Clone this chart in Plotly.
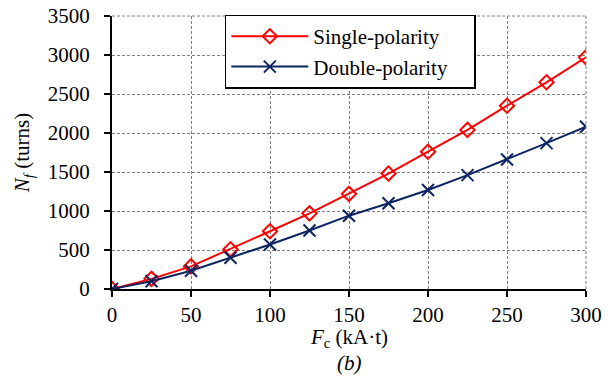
import plotly.graph_objects as go

fc = [0, 25, 50, 75, 100, 125, 150, 175, 200, 225, 250, 275, 300]
single = [0, 130, 290, 510, 740, 970, 1220, 1480, 1760, 2040, 2350, 2650, 2970]
double = [0, 100, 235, 400, 570, 750, 940, 1100, 1270, 1460, 1660, 1870, 2080]
series_names = ["Single-polarity", "Double-polarity"]

font = "Liberation Serif"
fs = 21
red = "#ff0000"
navy = "#0c2461"
grid = "#7f7f7f"
pad = "\u00a0" * 4  # right padding inside the legend box

fig = go.Figure()
fig.add_trace(go.Scatter(x=fc, y=single, mode="lines+markers", name=series_names[0] + pad,
                         line=dict(color=red, width=2),
                         marker=dict(symbol="diamond-open", size=11, color=red, line=dict(width=2))))
fig.add_trace(go.Scatter(x=fc, y=double, mode="lines+markers", name=series_names[1] + pad,
                         line=dict(color=navy, width=2),
                         marker=dict(symbol="x-thin-open", size=12, color=navy, line=dict(width=2, color=navy))))

axis_common = dict(showline=True, linecolor="black", linewidth=2,
                   ticks="outside", ticklen=6, tickwidth=1.5, tickcolor="black",
                   showgrid=True, gridcolor=grid, griddash="3px,2px", gridwidth=1,
                   zeroline=False, automargin=False,
                   tickfont=dict(family=font, size=fs, color="black"))

fig.update_layout(
    width=614, height=376,
    margin=dict(l=112, r=28, t=16, b=87, autoexpand=False),
    paper_bgcolor="white", plot_bgcolor="white",
    font=dict(family=font, size=fs, color="black"),
    showlegend=True,
    legend=dict(x=0.238, y=1.005, xanchor="left", yanchor="top",
                bordercolor="black", borderwidth=1.5, bgcolor="white",
                font=dict(family=font, size=fs), tracegroupgap=0, itemwidth=77),
    xaxis=dict(range=[0, 300], tickvals=[0, 50, 100, 150, 200, 250, 300],
               ticklabelstandoff=0, **axis_common),
    yaxis=dict(range=[0, 3500], tickvals=list(range(0, 3501, 500)),
               ticklabelstandoff=10,
               title=dict(text="<i>N<sub>f</sub></i> (turns)", standoff=12, font=dict(family=font, size=fs)),
               **axis_common),
    annotations=[
        dict(text="<i>F</i><sub>c</sub> (kA·t)", x=0.5, y=-0.178, xref="paper", yref="paper",
             showarrow=False, xanchor="center", yanchor="middle", font=dict(family=font, size=fs)),
        dict(text="<i>(b)</i>", x=0.5, y=-0.3187, xref="paper", yref="paper", borderpad=0,
             showarrow=False, xanchor="center", yanchor="bottom", font=dict(family=font, size=fs))],
    shapes=[dict(type="line", xref="paper", yref="paper", x0=1, x1=1, y0=0, y1=1,
                 line=dict(color=grid, width=1, dash="3px,2px")),
            dict(type="line", xref="paper", yref="paper", x0=0, x1=1, y0=1, y1=1,
                 line=dict(color=grid, width=1, dash="3px,2px"))],
)
fig.write_html("out.html")
